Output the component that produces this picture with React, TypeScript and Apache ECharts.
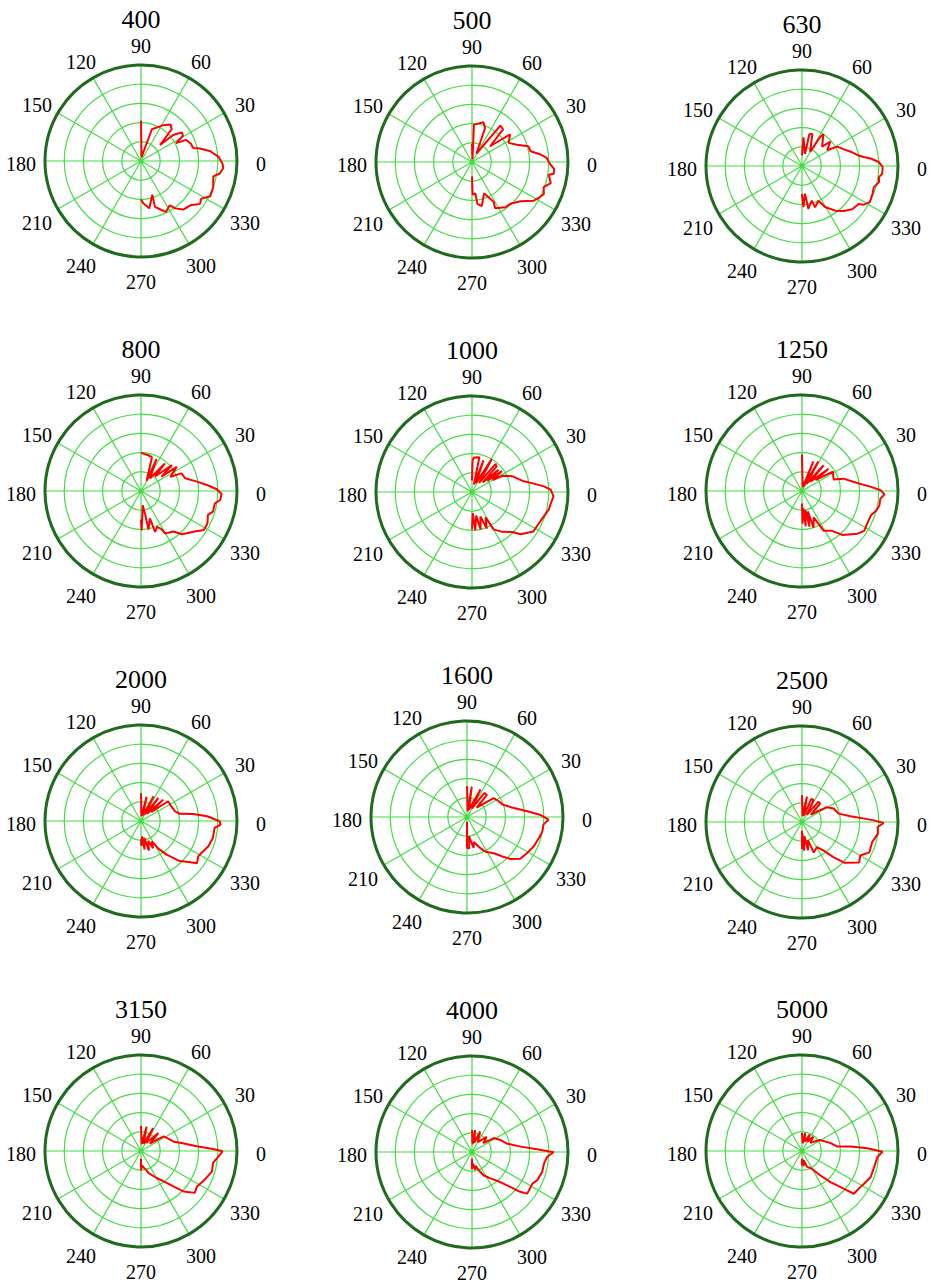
import React, { useEffect, useRef } from "react";
import * as echarts from "echarts";

// Plot titles (frequency, Hz)
const titles = ["400", "500", "630", "800", "1000", "1250", "2000", "1600", "2500", "3150", "4000", "5000"];
// Angle tick labels (degrees)
const angleTicks = [0, 30, 60, 90, 120, 150, 180, 210, 240, 270, 300, 330];

// Each pattern: angles (deg, negative = below 0°) and normalized radii
const a400 = [90, 82, 71, 58, 51, 46, 40, 39, 35, 31, 27, 25, 19, 14, 12, 8, 3, -2, -5, -9, -12, -20, -27, -32, -36, -42, -49, -54, -57, -64, -68.5, -73, -71.5, -80, -87, -90];
const r400 = [0.42, 0.04, 0.35, 0.44, 0.49, 0.46, 0.26, 0.43, 0.52, 0.51, 0.41, 0.52, 0.55, 0.56, 0.63, 0.73, 0.81, 0.85, 0.86, 0.83, 0.77, 0.8, 0.81, 0.74, 0.76, 0.69, 0.67, 0.61, 0.55, 0.59, 0.54, 0.5, 0.37, 0.5, 0.44, 0.4];

const a500 = [90, 80, 87, 74, 69, 62, 52, 46.5, 41, 36, 27.6, 21, 15.5, 10.4, 6.2, 3.1, -1.2, -4.9, -8.2, -9.4, -15, -19.3, -24, -28, -32, -39, -47.6, -53.7, -63.4, -61.5, -69, -77.5, -82.7, -84, -89, -90];
const r500 = [0.19, 0.03, 0.39, 0.43, 0.38, 0.1, 0.48, 0.47, 0.25, 0.49, 0.43, 0.5, 0.61, 0.62, 0.72, 0.78, 0.81, 0.86, 0.86, 0.81, 0.85, 0.79, 0.82, 0.79, 0.76, 0.65, 0.59, 0.585, 0.54, 0.47, 0.35, 0.47, 0.44, 0.33, 0.34, 0.15];

const a630 = [90, 87, 76, 77, 72, 60, 58, 56, 44, 40.6, 32.4, 28.7, 21.6, 16.3, 11, 8.3, 6.2, 3, -0.7, -5.5, -8.2, -11.8, -16.4, -21.7, -28.1, -32, -33.8, -40.7, -47, -53.3, -60.7, -64.6, -72.4, -74.3, -81.6, -83.8, -88, -90];
const r630 = [0.11, 0.3, 0.13, 0.34, 0.35, 0.17, 0.36, 0.4, 0.29, 0.39, 0.31, 0.42, 0.47, 0.53, 0.59, 0.65, 0.72, 0.8, 0.84, 0.84, 0.81, 0.82, 0.78, 0.79, 0.8, 0.76, 0.71, 0.69, 0.64, 0.58, 0.49, 0.4, 0.45, 0.375, 0.45, 0.29, 0.43, 0.29];

const a800 = [90, 86.5, 78.5, 72, 61, 64, 55, 49, 46, 40, 35, 34, 26, 23.5, 16, 9.5, 5.2, 1.3, -2.1, -6.5, -9.5, -16, -19.6, -26, -31.8, -37, -46.6, -51.5, -60.4, -61.7, -66, -71, -72, -79, -80, -83, -89, -90];
const r800 = [0.4, 0.39, 0.38, 0.37, 0.12, 0.37, 0.16, 0.38, 0.21, 0.42, 0.26, 0.45, 0.34, 0.46, 0.48, 0.59, 0.69, 0.79, 0.84, 0.83, 0.78, 0.78, 0.74, 0.77, 0.77, 0.7, 0.62, 0.54, 0.51, 0.45, 0.41, 0.45, 0.3, 0.41, 0.24, 0.15, 0.41, 0.3];

const a1000 = [90, 89, 86.6, 78, 76, 70, 66, 59, 52, 50, 46, 42, 40, 36, 35, 30, 28, 21.5, 11.7, 7.7, 4.5, 1.7, -3.1, -8, -13, -18.8, -25, -32.7, -41, -44.8, -53, -60, -62, -68, -71, -77, -80, -85, -88, -90];
const r1000 = [0.12, 0.33, 0.36, 0.37, 0.08, 0.35, 0.1, 0.4, 0.12, 0.38, 0.37, 0.15, 0.36, 0.2, 0.38, 0.25, 0.36, 0.45, 0.55, 0.65, 0.75, 0.82, 0.85, 0.83, 0.82, 0.79, 0.77, 0.76, 0.67, 0.59, 0.52, 0.45, 0.3, 0.41, 0.27, 0.4, 0.25, 0.4, 0.22, 0.39];

const a1250 = [90, 80, 69, 70, 61, 57, 50, 48, 40, 39, 32, 20, 16.6, 8.3, 3.4, 0.5, -2.3, -5.7, -10.6, -14.8, -19.7, -26.8, -32.7, -37.5, -47.5, -53, -61.5, -66, -72.5, -74, -78, -80, -84, -86, -89, -90];
const r1250 = [0.38, 0.04, 0.33, 0.06, 0.35, 0.09, 0.35, 0.13, 0.36, 0.18, 0.38, 0.35, 0.45, 0.58, 0.72, 0.82, 0.86, 0.82, 0.82, 0.8, 0.76, 0.76, 0.77, 0.73, 0.62, 0.52, 0.47, 0.3, 0.4, 0.22, 0.38, 0.2, 0.37, 0.18, 0.34, 0.13];

const a2000 = [90, 85, 77, 72, 63, 60, 53, 50, 44, 41, 36, 25.6, 15.9, 10.6, 7.6, 4.1, -0.2, -2.7, -5.4, -13.3, -20.6, -26, -31.6, -37, -40, -46, -52.7, -58, -62, -66, -70, -75, -79, -83, -86, -89, -90];
const r2000 = [0.29, 0.05, 0.26, 0.06, 0.29, 0.08, 0.3, 0.1, 0.32, 0.14, 0.35, 0.35, 0.37, 0.41, 0.55, 0.69, 0.82, 0.83, 0.77, 0.77, 0.75, 0.72, 0.7, 0.73, 0.67, 0.58, 0.44, 0.34, 0.24, 0.31, 0.22, 0.32, 0.18, 0.3, 0.16, 0.26, 0.19];

const a1600 = [90, 83, 81, 75, 64, 60, 54, 48, 44, 35.5, 26.3, 19.4, 12, 5.4, 1.8, -1.9, -5.7, -10.8, -16.3, -23.7, -31, -38, -43.9, -48.3, -53.5, -62, -67, -74.7, -78, -84, -86, -90, -90];
const r1600 = [0.32, 0.06, 0.32, 0.08, 0.32, 0.1, 0.31, 0.31, 0.14, 0.34, 0.37, 0.39, 0.48, 0.63, 0.76, 0.85, 0.8, 0.8, 0.78, 0.76, 0.73, 0.705, 0.63, 0.55, 0.47, 0.41, 0.35, 0.27, 0.33, 0.2, 0.33, 0.32, 0.05];

const a2500 = [90, 85, 79, 74, 68, 62, 57, 51, 45.5, 40, 31, 23, 12.9, 6.7, 3.1, 1.3, -0.7, -3.8, -8.9, -16, -24.3, -29.9, -35.4, -44, -48.2, -53, -59.6, -69, -72, -78, -80, -86, -88, -90, -90];
const r2500 = [0.28, 0.06, 0.27, 0.07, 0.26, 0.26, 0.09, 0.27, 0.27, 0.12, 0.3, 0.36, 0.39, 0.51, 0.65, 0.75, 0.85, 0.79, 0.8, 0.76, 0.77, 0.7, 0.73, 0.61, 0.49, 0.37, 0.305, 0.34, 0.2, 0.3, 0.15, 0.3, 0.12, 0.28, 0.09];

const a3150 = [90, 84, 77, 70, 62, 57, 46, 40, 33, 27, 16.6, 11.1, 4.8, 1.6, -0.2, -3.9, -9.4, -16, -26, -32.4, -37.9, -43.6, -47.5, -53.6, -59.9, -71.6, -75, -80, -86, -90, -90];
const r3150 = [0.26, 0.07, 0.26, 0.08, 0.27, 0.1, 0.26, 0.12, 0.28, 0.3, 0.35, 0.43, 0.58, 0.75, 0.85, 0.81, 0.76, 0.77, 0.72, 0.69, 0.71, 0.61, 0.5, 0.39, 0.325, 0.24, 0.2, 0.18, 0.15, 0.2, 0.08];

const a4000 = [90, 86, 82, 76, 68.5, 60, 46, 38, 32.6, 23, 14, 6.3, 2.4, -0.2, -3.6, -9, -15.8, -23.4, -27.7, -37, -39.6, -42.4, -46.7, -55.6, -63.8, -70, -75, -80, -85, -90, -90];
const r4000 = [0.23, 0.08, 0.23, 0.1, 0.23, 0.12, 0.22, 0.15, 0.27, 0.32, 0.37, 0.51, 0.68, 0.85, 0.785, 0.76, 0.76, 0.74, 0.71, 0.72, 0.65, 0.54, 0.43, 0.33, 0.27, 0.2, 0.15, 0.19, 0.12, 0.18, 0.07];

const a5000 = [90, 85, 80, 75, 65, 60, 51.7, 45, 31.4, 15.3, 7.1, 5.2, 2.4, -0.5, -4.3, -12.4, -20.7, -27.8, -33.5, -39.5, -42, -47.6, -53, -59, -66, -73, -78, -84, -88, -90, -90];
const r5000 = [0.19, 0.08, 0.19, 0.1, 0.19, 0.11, 0.19, 0.12, 0.22, 0.31, 0.37, 0.51, 0.68, 0.84, 0.79, 0.77, 0.765, 0.73, 0.71, 0.7, 0.59, 0.44, 0.32, 0.23, 0.19, 0.17, 0.1, 0.16, 0.08, 0.15, 0.08];

const plotAngles = [a400, a500, a630, a800, a1000, a1250, a2000, a1600, a2500, a3150, a4000, a5000];
const plotRadii = [r400, r500, r630, r800, r1000, r1250, r2000, r1600, r2500, r3150, r4000, r5000];

// layout (pixels)
const centers: [number, number][] = [
  [141, 161], [472, 162], [802, 166],
  [141, 491], [472, 492], [802, 491],
  [141, 821], [467, 817], [802, 822],
  [141, 1151], [472, 1152], [802, 1151],
];
const R = 96;
const FONT = "Liberation Serif";
const GRID = "#45dc45";
const RIM = "#1e6b1e";

export default function App() {
  const ref = useRef<HTMLDivElement>(null);
  useEffect(() => {
    if (!ref.current) return;
    const chart = echarts.init(ref.current, undefined, { renderer: "svg" });
    const polar = centers.map((c) => ({ center: [c[0], c[1]], radius: [0, R] }));
    const angleAxis = centers.map((_, i) => ({
      polarIndex: i,
      type: "value",
      min: 0,
      max: 360,
      interval: 30,
      startAngle: 0,
      clockwise: false,
      axisLine: { show: true, lineStyle: { color: RIM, width: 3 } },
      axisTick: { show: false },
      axisLabel: { show: false },
      splitLine: { show: true, lineStyle: { color: GRID, width: 1.2 } },
      z: 1,
    }));
    const radiusAxis = centers.map((_, i) => ({
      polarIndex: i,
      type: "value",
      min: 0,
      max: 1,
      interval: 0.2,
      axisLine: { show: false },
      axisTick: { show: false },
      axisLabel: { show: false },
      splitLine: { show: true, lineStyle: { color: GRID, width: 1.2 } },
    }));
    const series = plotAngles.map((angs, i) => ({
      type: "line",
      coordinateSystem: "polar",
      polarIndex: i,
      symbol: "none",
      smooth: false,
      clip: false,
      silent: true,
      z: 5,
      lineStyle: { color: "#ff0000", width: 2 },
      data: plotRadii[i].map((r, j) => [r, (angs[j] + 360) % 360]),
    }));
    const graphic: any[] = [];
    centers.forEach((c, i) => {
      graphic.push({
        type: "text",
        x: c[0],
        y: c[1] - 142,
        style: { text: titles[i], fontSize: 26, fontFamily: FONT, fill: "#000", align: "center", verticalAlign: "middle" },
      });
      angleTicks.forEach((t) => {
        const rad = (t * Math.PI) / 180;
        graphic.push({
          type: "text",
          x: c[0] + 120 * Math.cos(rad),
          y: c[1] - 118 * Math.sin(rad) + 3,
          style: { text: String(t), fontSize: 20, fontFamily: FONT, fill: "#000", align: "center", verticalAlign: "middle" },
        });
      });
    });
    chart.setOption({
      animation: false,
      backgroundColor: "#ffffff",
      polar,
      angleAxis,
      radiusAxis,
      series,
      graphic,
    } as any);
    return () => chart.dispose();
  }, []);
  return <div ref={ref} style={{ position: "absolute", left: 0, top: 0, width: 930, height: 1283 }} />;
}
